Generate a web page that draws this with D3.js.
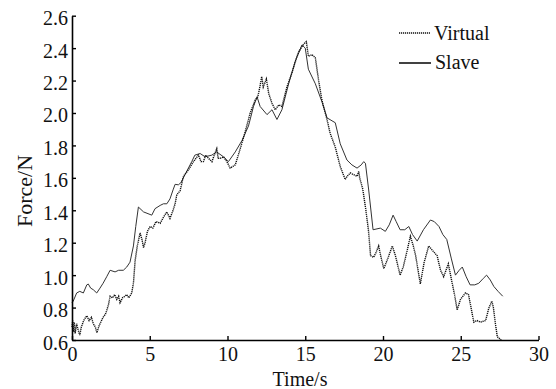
<!DOCTYPE html>
<html>
<head>
<meta charset="utf-8">
<script src="https://cdn.jsdelivr.net/npm/d3@7"></script>
<style>
  body { margin: 0; background: #fff; }
  .chart text { font-family: "Liberation Serif", "Times New Roman", serif; fill: #111; }
</style>
</head>
<body>
<div class="chart"></div>
<script>
// Virtual force (dotted)
const virtualTime = [0.0,0.05,0.1,0.15,0.2,0.3,0.4,0.5,0.6,0.75,0.95,1.1,1.25,1.37,1.5,1.6,1.75,1.9,2.0,2.15,2.23,2.35,2.45,2.6,2.75,2.88,3.0,3.09,3.25,3.4,3.52,3.65,3.84,3.95,4.06,4.2,4.38,4.5,4.6,4.7,4.85,5.02,5.2,5.4,5.67,5.9,6.1,6.3,6.5,6.63,6.74,6.95,7.17,7.49,7.81,8.13,8.3,8.45,8.6,8.78,9.0,9.15,9.31,9.4,9.53,9.75,9.96,10.17,10.5,10.82,11.14,11.46,11.78,11.95,12.1,12.2,12.3,12.5,12.65,12.86,13.07,13.3,13.5,13.82,14.15,14.47,14.6,14.79,14.95,15.07,15.2,15.43,15.65,15.86,16.07,16.4,16.6,16.93,17.25,17.57,17.7,17.9,18.1,18.33,18.44,18.5,18.7,18.9,19.06,19.2,19.4,19.55,19.72,19.85,20.05,20.3,20.6,20.8,21.1,21.3,21.55,21.76,21.95,22.1,22.4,22.65,22.94,23.2,23.48,23.7,23.9,24.2,24.45,24.6,24.77,24.98,25.3,25.5,25.84,26.05,26.27,26.6,26.8,27.0,27.1,27.2,27.35,27.6];
const virtualForce = [0.68,0.72,0.65,0.71,0.64,0.70,0.66,0.63,0.68,0.72,0.75,0.72,0.74,0.70,0.68,0.645,0.69,0.72,0.74,0.76,0.78,0.82,0.87,0.86,0.88,0.85,0.87,0.83,0.86,0.87,0.88,0.86,0.89,0.95,1.09,1.18,1.26,1.22,1.17,1.20,1.27,1.30,1.29,1.33,1.32,1.36,1.39,1.35,1.40,1.44,1.495,1.52,1.61,1.65,1.70,1.74,1.70,1.70,1.74,1.72,1.70,1.74,1.78,1.72,1.72,1.73,1.70,1.66,1.68,1.78,1.885,2.0,2.08,2.10,2.17,2.225,2.16,2.21,2.12,2.06,2.02,2.05,2.04,2.16,2.25,2.35,2.38,2.41,2.43,2.44,2.35,2.36,2.34,2.20,2.08,1.96,1.875,1.79,1.67,1.59,1.61,1.63,1.62,1.61,1.64,1.60,1.53,1.40,1.28,1.12,1.11,1.14,1.18,1.12,1.04,1.10,1.18,1.12,1.00,1.05,1.15,1.24,1.18,1.12,0.946,1.08,1.18,1.15,1.12,1.03,0.99,1.07,0.95,0.88,0.785,0.85,0.89,0.88,0.71,0.72,0.71,0.72,0.795,0.84,0.80,0.72,0.62,0.60];

// Slave force (solid)
const slaveTime = [0.0,0.08,0.3,0.5,0.73,0.95,1.05,1.2,1.37,1.59,1.8,2.0,2.23,2.45,2.77,3.0,3.3,3.52,3.73,3.95,4.1,4.27,4.6,5.13,5.34,5.67,5.88,6.1,6.3,6.5,6.63,6.84,7.0,7.27,7.7,7.9,8.24,8.56,8.99,9.3,9.74,10.06,10.5,10.93,11.35,11.67,11.9,12.1,12.54,12.86,13.18,13.5,13.93,14.36,14.79,15.0,15.2,15.65,16.07,16.4,16.93,17.25,17.68,18.0,18.33,18.6,18.76,18.87,19.08,19.36,19.83,20.15,20.4,20.65,20.85,21.1,21.4,21.66,21.9,22.2,22.6,23.05,23.3,23.6,23.85,24.1,24.4,24.66,24.9,25.1,25.35,25.6,25.9,26.16,26.45,26.66,26.9,27.13,27.4,27.7];
const slaveForce = [0.83,0.84,0.89,0.90,0.89,0.94,0.945,0.92,0.91,0.89,0.92,0.95,0.99,1.03,1.02,1.03,1.03,1.05,1.08,1.18,1.30,1.42,1.39,1.37,1.41,1.43,1.44,1.44,1.47,1.526,1.56,1.557,1.57,1.62,1.70,1.74,1.75,1.73,1.74,1.76,1.73,1.70,1.76,1.83,1.92,2.04,2.10,2.04,1.99,2.02,1.96,2.02,2.18,2.32,2.42,2.40,2.27,2.18,2.07,1.97,1.94,1.81,1.71,1.68,1.66,1.68,1.70,1.69,1.525,1.28,1.29,1.27,1.31,1.37,1.33,1.28,1.28,1.30,1.25,1.21,1.28,1.34,1.33,1.30,1.25,1.22,1.10,1.00,1.03,1.05,0.99,0.94,0.94,0.95,0.98,1.00,0.97,0.93,0.90,0.87];

const xTicks = [0, 5, 10, 15, 20, 25, 30];
const yTicks = [0.6, 0.8, 1.0, 1.2, 1.4, 1.6, 1.8, 2.0, 2.2, 2.4, 2.6];

const W = 556, H = 389;
const margin = {top: 15.7, right: 17.5, bottom: 49, left: 72};

const svg = d3.select(".chart")
  .append("svg")
    .attr("width", W)
    .attr("height", H);

const x = d3.scaleLinear().domain([0, 30]).range([margin.left, W - margin.right]);
const y = d3.scaleLinear().domain([0.6, 2.6]).range([H - margin.bottom, margin.top]);

// lines
const line = d3.line().x(d => x(d[0])).y(d => y(d[1]));
const virtualData = virtualTime.map((t, i) => [t, virtualForce[i]]);
const slaveData = slaveTime.map((t, i) => [t, slaveForce[i]]);

svg.append("path")
  .datum(slaveData)
  .attr("fill", "none")
  .attr("stroke", "#333")
  .attr("stroke-width", 1)
  .attr("d", line);

svg.append("path")
  .datum(virtualData)
  .attr("fill", "none")
  .attr("stroke", "#111")
  .attr("stroke-width", 1.4)
  .attr("stroke-dasharray", "1.2,0.8")
  .attr("d", line);

// axes, ticks pointing inward
const xAxis = svg.append("g")
  .attr("transform", `translate(0,${H - margin.bottom})`)
  .call(d3.axisBottom(x).tickValues(xTicks).tickFormat(d3.format("d"))
    .tickSizeInner(-4).tickSizeOuter(0).tickPadding(7));

const yAxis = svg.append("g")
  .attr("transform", `translate(${margin.left},0)`)
  .call(d3.axisLeft(y).tickValues(yTicks).tickFormat(d3.format(".1f"))
    .tickSizeInner(-4).tickSizeOuter(0).tickPadding(4));

yAxis.selectAll(".tick text").attr("dy", "0.45em");

[xAxis, yAxis].forEach(g => {
  g.select(".domain").attr("stroke", "#000").attr("stroke-width", 1.6);
  g.selectAll(".tick line").attr("stroke", "#000").attr("stroke-width", 1.4);
  g.selectAll(".tick text").style("font-size", "20px").attr("fill", "#111");
});

// axis labels
svg.append("text")
  .attr("x", 300)
  .attr("y", 386)
  .attr("text-anchor", "middle")
  .style("font-size", "20px")
  .text("Time/s");

svg.append("text")
  .attr("transform", "translate(32,191) rotate(-90)")
  .attr("text-anchor", "middle")
  .style("font-size", "22px")
  .text("Force/N");

// legend
const legend = svg.append("g");
legend.append("line")
  .attr("x1", 399).attr("x2", 430).attr("y1", 33).attr("y2", 33)
  .attr("stroke", "#111").attr("stroke-width", 1.4).attr("stroke-dasharray", "1.2,0.8");
legend.append("text").attr("x", 434).attr("y", 40).style("font-size", "20px").text("Virtual");
legend.append("line")
  .attr("x1", 399).attr("x2", 431).attr("y1", 63).attr("y2", 63)
  .attr("stroke", "#111").attr("stroke-width", 1.6);
legend.append("text").attr("x", 435).attr("y", 69).style("font-size", "20px").text("Slave");
</script>
</body>
</html>
